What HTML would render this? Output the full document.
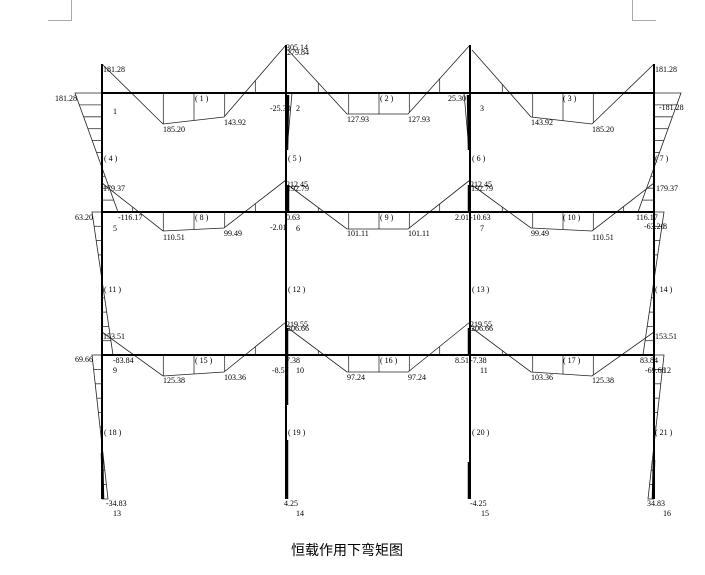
<!DOCTYPE html>
<html><head><meta charset="utf-8"><style>
html,body{margin:0;padding:0;background:#fff;width:705px;height:575px;overflow:hidden}
svg text{font-family:"Liberation Serif",serif;font-size:8px;fill:#000}
</style></head><body>
<svg id="s" width="705" height="575" viewBox="0 0 705 575" xmlns="http://www.w3.org/2000/svg">
<g stroke="#aaa" stroke-width="1" fill="none">
<line x1="71.5" y1="0" x2="71.5" y2="20"/><line x1="48" y1="20.5" x2="72" y2="20.5"/>
<line x1="632.5" y1="0" x2="632.5" y2="20"/><line x1="632" y1="20.5" x2="656" y2="20.5"/>
</g>
<g id="hat" stroke="#333" stroke-width="0.8" fill="none"></g>
<g id="dia" stroke="#222" stroke-width="0.8" fill="none"></g>
<g stroke="#000" stroke-width="2" fill="none">
<line x1="102" y1="93" x2="654" y2="93"/>
<line x1="102" y1="212" x2="654" y2="212"/>
<line x1="102" y1="355" x2="654" y2="355"/>
<line x1="102" y1="64" x2="102" y2="499"/>
<line x1="286" y1="45" x2="286" y2="499"/>
<line x1="470" y1="45" x2="470" y2="499"/>
<line x1="654" y1="64" x2="654" y2="499"/>
</g>
<g stroke="#000" stroke-width="2.5">
<line x1="288" y1="95" x2="287" y2="150"/><line x1="468" y1="95" x2="469" y2="150"/>
<line x1="288" y1="185" x2="288" y2="212"/><line x1="469" y1="185" x2="469" y2="212"/>
<line x1="287" y1="328" x2="287" y2="405"/><line x1="469" y1="328" x2="469" y2="355"/>
<line x1="287" y1="440" x2="287" y2="499"/><line x1="469" y1="462" x2="469" y2="499"/>
<line x1="102" y1="453" x2="103" y2="499"/><line x1="654" y1="460" x2="653" y2="499"/>
</g>
<text x="103" y="72">181.28</text><text x="55" y="101">181.28</text><text x="113" y="114">1</text>
<text x="163" y="132">185.20</text><text x="224" y="125">143.92</text><text x="195" y="101">( 1 )</text>
<text x="286" y="50">305.14</text><text x="287" y="55">279.84</text>
<text x="270" y="111">-25.30</text><text x="296" y="111">2</text>
<text x="347" y="122">127.93</text><text x="408" y="122">127.93</text><text x="380" y="101">( 2 )</text>
<text x="448" y="101">25.30</text><text x="480" y="111">3</text>
<text x="531" y="125">143.92</text><text x="592" y="132">185.20</text><text x="563" y="101">( 3 )</text>
<text x="655" y="72">181.28</text><text x="659" y="110">-181.28</text>
<text x="104" y="161">( 4 )</text><text x="288" y="161">( 5 )</text><text x="472" y="161">( 6 )</text><text x="655" y="161">( 7 )</text>
<text x="103" y="191">179.37</text><text x="75" y="220">63.20</text><text x="118" y="220">-116.17</text><text x="113" y="231">5</text>
<text x="163" y="240">110.51</text><text x="224" y="236">99.49</text><text x="195" y="220">( 8 )</text>
<text x="286" y="187">212.45</text><text x="287" y="191">192.79</text>
<text x="286" y="220">0.63</text><text x="270" y="230">-2.01</text><text x="296" y="231">6</text>
<text x="347" y="236">101.11</text><text x="408" y="236">101.11</text><text x="380" y="220">( 9 )</text>
<text x="455" y="220">2.01</text><text x="470" y="220">-10.63</text><text x="480" y="231">7</text>
<text x="470" y="187">212.45</text><text x="471" y="191">192.79</text>
<text x="531" y="236">99.49</text><text x="592" y="240">110.51</text><text x="563" y="220">( 10 )</text>
<text x="656" y="191">179.37</text><text x="636" y="220">116.17</text><text x="644" y="229">-63.20</text><text x="663" y="229">8</text>
<text x="104" y="292">( 11 )</text><text x="288" y="292">( 12 )</text><text x="472" y="292">( 13 )</text><text x="655" y="292">( 14 )</text>
<text x="103" y="339">153.51</text><text x="75" y="362">69.66</text><text x="113" y="363">-83.84</text><text x="113" y="373">9</text>
<text x="163" y="383">125.38</text><text x="224" y="380">103.36</text><text x="195" y="363">( 15 )</text>
<text x="286" y="327">219.55</text><text x="287" y="331">206.66</text>
<text x="286" y="363">7.38</text><text x="272" y="373">-8.57</text><text x="296" y="373">10</text>
<text x="347" y="380">97.24</text><text x="408" y="380">97.24</text><text x="380" y="363">( 16 )</text>
<text x="455" y="363">8.51</text><text x="470" y="363">-7.38</text><text x="480" y="373">11</text>
<text x="470" y="327">219.55</text><text x="471" y="331">206.66</text>
<text x="531" y="380">103.36</text><text x="592" y="383">125.38</text><text x="563" y="363">( 17 )</text>
<text x="655" y="339">153.51</text><text x="640" y="363">83.84</text><text x="645" y="373">-69.66</text><text x="663" y="373">12</text>
<text x="104" y="435">( 18 )</text><text x="288" y="435">( 19 )</text><text x="472" y="435">( 20 )</text><text x="655" y="435">( 21 )</text>
<text x="106" y="506">-34.83</text><text x="113" y="516">13</text>
<text x="284" y="506">4.25</text><text x="296" y="516">14</text>
<text x="470" y="506">-4.25</text><text x="481" y="516">15</text>
<text x="647" y="506">34.83</text><text x="663" y="516">16</text>
<text x="291" y="555" style="font-family:'Noto Sans CJK SC',sans-serif;font-size:14px">恒载作用下弯矩图</text>
</svg>
<script>
var NS="http://www.w3.org/2000/svg",hat=document.getElementById('hat'),dia=document.getElementById('dia');
function ln(g,a,b,c,d){var l=document.createElementNS(NS,'line');l.setAttribute('x1',a);l.setAttribute('y1',b);l.setAttribute('x2',c);l.setAttribute('y2',d);g.appendChild(l);}
function pl(pts){var p=document.createElementNS(NS,'polyline');p.setAttribute('points',pts.map(function(q){return q.join(',')}).join(' '));dia.appendChild(p);}
function interp(pts,x){for(var i=0;i<pts.length-1;i++){var a=pts[i],b=pts[i+1];if(x>=a[0]&&x<=b[0])return a[1]+(b[1]-a[1])*(x-a[0])/(b[0]-a[0]);}return null;}
function beam(pts,by){pl(pts);var x0=pts[0][0],x1=pts[pts.length-1][0],st=(x1-x0)/6;for(var k=1;k<6;k++){var x=x0+st*k;ln(hat,x,by,x,interp(pts,x));}}
[[93,[[102,64],[163,124],[224,117],[286,45]],[[288,50],[347,114],[408,114],[470,45]],[[472,50],[531,117],[592,124],[654,64]]],
 [212,[[102,183],[163,231],[224,228],[286,180]],[[288,185],[347,229],[408,229],[470,180]],[[472,185],[531,228],[592,231],[654,183]]],
 [355,[[102,332],[163,376],[224,372],[286,322]],[[288,328],[347,372],[408,372],[470,322]],[[472,328],[531,372],[592,376],[654,332]]]
].forEach(function(r){beam(r[1],r[0]);beam(r[2],r[0]);beam(r[3],r[0]);});
function col(cx,x0,y0,x1,y1){pl([[cx,y0],[x0,y0],[x1,y1],[cx,y1]]);var n=10;for(var k=1;k<n;k++){var y=y0+(y1-y0)*k/n,x=x0+(x1-x0)*k/n;ln(hat,cx,y,x,y);}}
col(102,75,93,118,212);col(102,92,212,113,355);col(102,92,355,108,499);
col(654,681,93,638,212);col(654,664,212,643,355);col(654,664,355,648,499);
pl([[288,93],[292,93],[287,150]]);pl([[468,93],[464,93],[469,150]]);
</script>
</body></html>
